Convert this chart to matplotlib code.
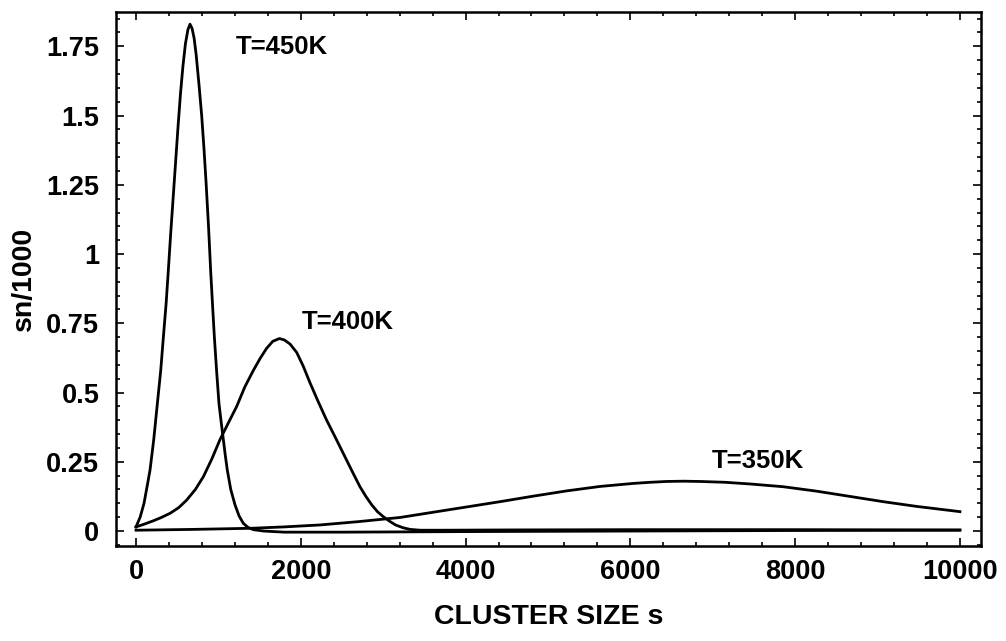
import matplotlib
matplotlib.use("Agg")
from matplotlib import pyplot as plt
from matplotlib.ticker import MultipleLocator, FixedLocator

plt.rcParams["font.family"] = ["Liberation Sans", "DejaVu Sans"]
plt.rcParams["font.weight"] = "bold"

# T=450K
x_450 = [0, 50, 97, 140, 170, 215, 259, 300, 332, 365, 392, 420, 450, 480, 510,
         540, 570, 600, 630, 655, 680, 705, 730, 765, 797, 825, 850, 880, 906, 930,
         951, 980, 1007, 1035, 1060, 1085, 1108, 1150, 1201, 1250, 1302, 1360, 1424,
         1550, 1800, 2500, 4000, 6000, 8000, 10000]
y_450 = [0.015, 0.05, 0.10, 0.17, 0.22, 0.33, 0.46, 0.58, 0.70, 0.82, 0.94, 1.07,
         1.20, 1.33, 1.46, 1.58, 1.68, 1.76, 1.81, 1.83, 1.815, 1.78, 1.72, 1.61,
         1.50, 1.38, 1.26, 1.10, 0.94, 0.81, 0.70, 0.57, 0.46, 0.39, 0.33, 0.27,
         0.22, 0.15, 0.095, 0.055, 0.028, 0.013, 0.005, 0.0, -0.004, -0.004,
         -0.002, 0.0, 0.002, 0.003]

# T=400K
x_400 = [0, 100, 210, 300, 413, 520, 615, 720, 817, 920, 1019, 1120, 1222, 1320,
         1424, 1510, 1586, 1660, 1740, 1800, 1870, 1950, 2030, 2112, 2210, 2314,
         2416, 2516, 2616, 2718, 2790, 2860, 2930, 3001, 3080, 3150, 3240, 3325,
         3450, 3700, 4500, 6000, 8000, 10000]
y_400 = [0.015, 0.025, 0.037, 0.048, 0.064, 0.085, 0.112, 0.15, 0.196, 0.26, 0.33,
         0.39, 0.45, 0.52, 0.58, 0.625, 0.66, 0.685, 0.695, 0.69, 0.675, 0.645,
         0.595, 0.535, 0.468, 0.40, 0.34, 0.28, 0.22, 0.16, 0.125, 0.095, 0.07,
         0.052, 0.035, 0.022, 0.012, 0.006, 0.003, 0.003, 0.004, 0.005, 0.005, 0.004]

# T=350K
x_350 = [0, 700, 1400, 1800, 2233, 2700, 3204, 3608, 4013, 4417, 4822, 5227, 5631,
         6036, 6240, 6440, 6645, 6845, 7150, 7451, 7856, 8260, 8665, 9069, 9474,
         10000]
y_350 = [0.003, 0.006, 0.01, 0.015, 0.022, 0.034, 0.049, 0.068, 0.087, 0.106,
         0.126, 0.145, 0.161, 0.172, 0.176, 0.179, 0.18, 0.179, 0.176, 0.170,
         0.160, 0.144, 0.125, 0.106, 0.089, 0.070]

labels = ["T=450K", "T=400K", "T=350K"]
label_pos = [(1214, 1.747), (2011, 0.754), (6987, 0.253)]

y_ticks = [0, 0.25, 0.5, 0.75, 1, 1.25, 1.5, 1.75]
y_ticklabels = ["0", "0.25", "0.5", "0.75", "1", "1.25", "1.5", "1.75"]
x_ticks = [0, 2000, 4000, 6000, 8000, 10000]

fig = plt.figure(figsize=(10.06, 6.41), dpi=100)
ax = fig.add_axes([0.1153, 0.1482, 0.8598, 0.8331])

for xs, ys in [(x_450, y_450), (x_400, y_400), (x_350, y_350)]:
    ax.plot(xs, ys, color="black", lw=2.0, solid_joinstyle="round")

for text, (tx, ty) in zip(labels, label_pos):
    ax.text(tx, ty, text, fontsize=18.5, fontweight="bold", va="center", ha="left")

ax.set_xlim(-243, 10255)
ax.set_ylim(-0.054, 1.874)
ax.xaxis.set_major_locator(FixedLocator(x_ticks))
ax.xaxis.set_minor_locator(MultipleLocator(400))
ax.set_yticks(y_ticks)
ax.set_yticklabels(y_ticklabels)
ax.yaxis.set_minor_locator(MultipleLocator(0.05))

ax.tick_params(which="both", direction="in", top=True, right=True, width=1.2,
               labelsize=19.5)
ax.tick_params(which="major", length=6)
ax.tick_params(which="minor", length=3)
ax.tick_params(axis="x", pad=9)
ax.tick_params(axis="y", pad=12)
for s in ax.spines.values():
    s.set_linewidth(1.8)

ax.set_xlabel("CLUSTER SIZE s", fontsize=20.5, fontweight="bold", labelpad=14)
ax.set_ylabel("sn/1000", fontsize=20.5, fontweight="bold", labelpad=7)

fig.savefig("out.png", dpi=100)
